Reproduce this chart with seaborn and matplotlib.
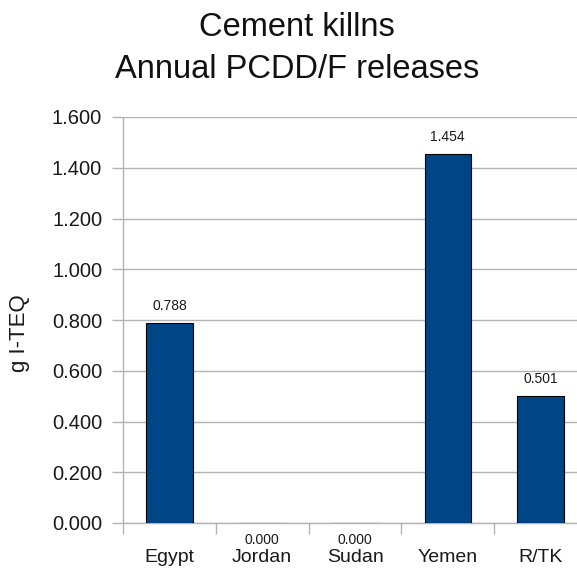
import matplotlib
matplotlib.use("Agg")
import matplotlib.pyplot as plt
import seaborn as sns
import pandas as pd
import numpy as np

countries = ["Egypt", "Jordan", "Sudan", "Yemen", "R/TK"]
releases = [0.788, 0.000, 0.000, 1.454, 0.501]
y_ticks = [0.0, 0.2, 0.4, 0.6, 0.8, 1.0, 1.2, 1.4, 1.6]

sns.set_theme(style="white")
plt.rcParams["font.family"] = ["Liberation Sans", "DejaVu Sans"]

df = pd.DataFrame({"country": countries, "release": releases})

fig = plt.figure(figsize=(5.77, 5.69), dpi=100)
ax = fig.add_axes([123 / 577, 46 / 569, 464 / 577, 406 / 569])

sns.barplot(data=df, x="country", y="release", ax=ax, color="#004586",
            saturation=1, width=0.5, edgecolor="black", linewidth=0.8, zorder=3)

ax.set_ylim(0, 1.6)
ax.set_xlim(-0.5, len(countries) - 0.5)
ax.set_yticks(y_ticks)
ax.set_yticklabels([f"{v:.3f}" for v in y_ticks], fontsize=14.5, color="#1a1a1a")
ax.yaxis.grid(True, color="#b3b3b3", linewidth=1, zorder=0)
ax.xaxis.grid(False)

ax.set_xticks(range(len(countries)))
ax.set_xticklabels(countries, fontsize=14, color="#1a1a1a")
ax.set_xticks(np.arange(-0.5, len(countries), 1.0), minor=True)
ax.tick_params(axis="x", which="major", length=0, pad=19)
ax.tick_params(axis="x", which="minor", length=8, width=1, color="#b3b3b3", bottom=True)
ax.tick_params(axis="y", which="major", length=8, width=1, color="#b3b3b3", left=True, pad=7)

for side in ["top", "right"]:
    ax.spines[side].set_visible(False)
for side in ["left", "bottom"]:
    ax.spines[side].set_color("#b3b3b3")
    ax.spines[side].set_linewidth(1)

ax.set_xlabel("")
ax.set_ylabel("g I-TEQ", fontsize=16, color="#1a1a1a")
ax.yaxis.label.set_va("center")
ax.yaxis.set_label_coords(-0.222, 0.468)

for i, v in enumerate(releases):
    offset = 12 if v > 0 else -12
    ax.annotate(f"{v:.3f}", xy=(i, v), xytext=(0, offset), textcoords="offset points",
                ha="center", va="center", fontsize=10, color="#1a1a1a",
                annotation_clip=False)

fig.text(297 / 577, 1 - 36 / 569, "Cement killns", ha="center", va="baseline",
         fontsize=23.5, color="#111111")
fig.text(297 / 577, 1 - 78 / 569, "Annual PCDD/F releases", ha="center", va="baseline",
         fontsize=23.5, color="#111111")

fig.savefig("out.png", dpi=100)
